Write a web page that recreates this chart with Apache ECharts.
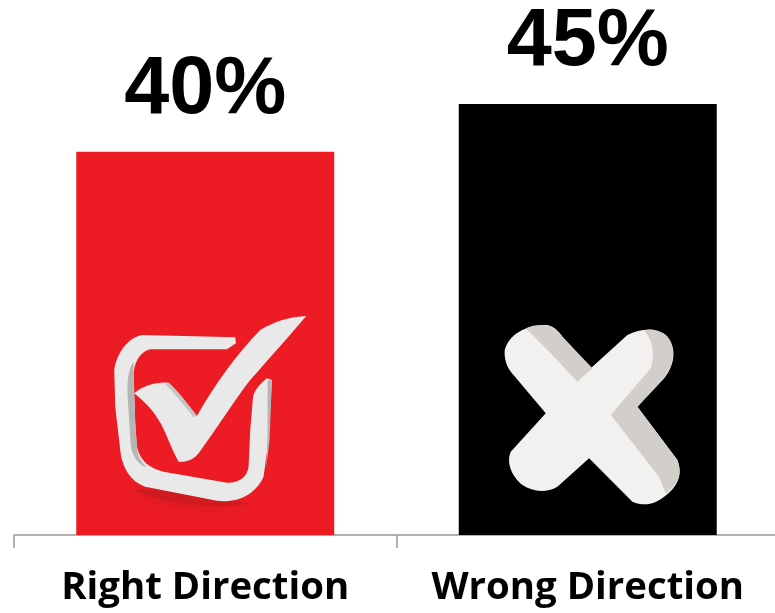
<!DOCTYPE html>
<html>
<head>
<meta charset="utf-8">
<style>html,body{margin:0;padding:0;background:#fff}#c{width:775px;height:613px}</style>
<script src="https://cdn.jsdelivr.net/npm/echarts@6/dist/echarts.min.js"></script>
</head>
<body>
<div id="c"></div>
<script>
const categories = ['Right Direction', 'Wrong Direction'];
const shares = [40, 45];
const barColors = ['#ED1C24', '#000000'];

// Icon artwork, drawn in its own local frame and anchored to each bar's base.
const frameA = 'M0 0L0 0M810 750L810 750';
const frameB = 'M0 0L0 0M810 720L810 720';
const checkDrop = frameA + 'M190 600C270 590 420 625 540 640C470 660 280 645 190 600Z';
const checkRing = frameA + 'M495 142L215 135C170 145 140 190 132 240L135 350L150 480C155 530 180 575 225 590L440 632C500 640 555 615 580 560L595 450L605 270L590 265C565 285 550 305 548 325L540 420L535 530C530 565 500 580 470 578L280 545C240 535 210 515 200 470L195 400L190 250C195 205 215 185 240 178L470 178L497 160Z';
const checkRingShade = frameA + 'M190 215C175 235 170 270 172 320L182 470C188 500 205 525 230 532C208 510 200 490 200 470L195 400L190 250ZM592 272L605 270L598 450L588 535L592 440Z';
const checkTick = frameA + 'M192 310C220 285 260 275 295 278C320 300 355 345 380 378C430 290 500 190 570 120C610 95 660 80 708 78C690 100 620 180 540 270C500 320 430 430 385 490C370 510 345 518 325 515C300 470 285 420 265 390C245 355 215 330 192 310Z';
const checkTickShade = frameA + 'M295 278C320 300 355 345 380 378L370 382C345 350 320 318 285 282Z';
const crossBody = frameB + 'M162 150C175 105 220 75 290 75C310 80 325 95 335 110L420 205L530 105C570 85 620 80 650 110C672 135 680 185 640 235L560 320L680 480C695 520 685 550 655 578C625 605 590 625 545 605L415 475L320 560C285 580 245 575 215 555C185 530 165 490 180 455L285 340L180 215C165 195 160 170 162 150Z';
const crossShade = frameB + 'M225 85C245 75 275 72 295 78C310 85 325 95 335 110L425 205L380 245L300 160ZM580 92C600 85 630 90 650 110C670 135 678 185 640 235L560 320L680 480C695 520 685 550 645 582L625 530L480 345L600 205C612 170 610 125 580 92Z';

const iconLayer = (name, paths, colors, extra) => ({
  name, type: 'pictorialBar', barWidth: 258, barGap: '-100%',
  symbolPosition: 'start', silent: true, z: 4, ...extra,
  data: shares.map((v, i) => paths[i] ? ({
    value: v,
    symbol: 'path://' + paths[i],
    symbolSize: i === 0 ? [270, 250] : [270, 240],
    symbolOffset: i === 0 ? [0, 5] : [-2, 5],
    itemStyle: { color: colors[i], ...(extra && extra.styleExtra) }
  }) : ({ value: v, symbol: 'none' }))
});

const chart = echarts.init(document.getElementById('c'), null, { renderer: 'canvas' });
chart.setOption({
  animation: false,
  backgroundColor: '#fff',
  grid: { left: 14, top: 56, width: 765, height: 479, outerBoundsMode: 'none' },
  xAxis: {
    type: 'category', data: categories,
    axisLine: { show: true, lineStyle: { color: '#999999', width: 1.5 } },
    axisTick: { show: true, length: 13, lineStyle: { color: '#999999', width: 1.5 } },
    axisLabel: { interval: 0, margin: 34, color: '#000', fontFamily: 'Open Sans', fontWeight: 700, fontSize: 38.4, hideOverlap: false }
  },
  yAxis: { type: 'value', min: 0, max: 50, show: false, splitLine: { show: false } },
  series: [
    {
      name: 'Share', type: 'bar', barWidth: 258, barGap: '-100%', z: 2,
      data: shares.map((v, i) => ({ value: v, itemStyle: { color: barColors[i] } })),
      label: {
        show: true, position: 'top', distance: 21, formatter: '{c}%',
        color: '#000', fontFamily: 'Liberation Sans', fontWeight: 700, fontSize: 81
      }
    },
    iconLayer('drop', [checkDrop, null], ['#CF1A20'], { z: 3, styleExtra: { shadowBlur: 16, shadowColor: '#CF1A20' } }),
    iconLayer('body', [checkRing, crossBody], ['#E9E9E9', '#F3F1EF'], { z: 4 }),
    iconLayer('ringShade', [checkRingShade, crossShade], ['#B5B5B5', '#D2CEC9'], { z: 5 }),
    iconLayer('tick', [checkTick, null], ['#E9E9E9'], { z: 6 }),
    iconLayer('tickShade', [checkTickShade, null], ['#C4C4C4'], { z: 7 })
  ]
});
</script>
</body>
</html>
